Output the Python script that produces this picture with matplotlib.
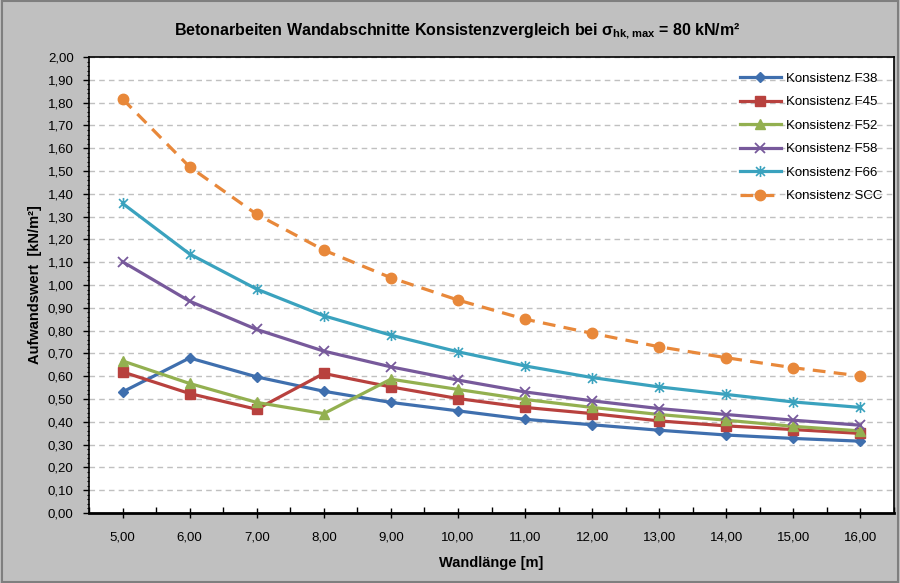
import numpy as np
import matplotlib.pyplot as plt
from matplotlib.path import Path
from matplotlib.patches import Rectangle
from matplotlib.ticker import MultipleLocator, FuncFormatter

plt.rcParams['font.family'] = ['Liberation Sans', 'DejaVu Sans']
plt.rcParams['mathtext.fontset'] = 'custom'
plt.rcParams['mathtext.rm'] = 'Liberation Sans'
plt.rcParams['mathtext.bf'] = 'Liberation Sans:bold'

# Wandlänge [m]
wandlaenge = [5.0, 6.0, 7.0, 8.0, 9.0, 10.0, 11.0, 12.0, 13.0, 14.0, 15.0, 16.0]

# Aufwandswerte [kN/m²] je Konsistenz
f38 = [0.531, 0.680, 0.597, 0.534, 0.485, 0.448, 0.411, 0.387, 0.363, 0.342, 0.327, 0.315]
f45 = [0.619, 0.524, 0.455, 0.612, 0.553, 0.502, 0.463, 0.436, 0.404, 0.382, 0.366, 0.349]
f52 = [0.667, 0.568, 0.485, 0.436, 0.587, 0.542, 0.498, 0.463, 0.432, 0.407, 0.380, 0.360]
f58 = [1.102, 0.929, 0.805, 0.710, 0.641, 0.583, 0.531, 0.492, 0.458, 0.432, 0.407, 0.385]
f66 = [1.358, 1.136, 0.982, 0.865, 0.780, 0.707, 0.645, 0.594, 0.553, 0.520, 0.487, 0.463]
scc = [1.816, 1.518, 1.310, 1.153, 1.032, 0.934, 0.850, 0.788, 0.729, 0.681, 0.637, 0.601]

labels = ['Konsistenz F38', 'Konsistenz F45', 'Konsistenz F52',
          'Konsistenz F58', 'Konsistenz F66', 'Konsistenz SCC']

# Stern-Marker (x mit senkrechtem Strich)
stern = Path([(-1, -1), (1, 1), (-1, 1), (1, -1), (0, -1.25), (0, 1.25)],
             [Path.MOVETO, Path.LINETO, Path.MOVETO, Path.LINETO, Path.MOVETO, Path.LINETO])

fig = plt.figure(figsize=(9, 5.83), dpi=100, facecolor='#c0c0c0')
fig.patches.append(Rectangle((0.002, 0.002), 0.996, 0.996, transform=fig.transFigure,
                             fill=False, edgecolor='#7f7f7f', lw=1.5))
ax = fig.add_axes([89 / 900, 1 - 513 / 583, 805 / 900, 456 / 583])
ax.set_facecolor('white')

lw = 2.3
ax.plot(wandlaenge, f38, color='#3f6fae', lw=lw, marker='D', ms=5.5, label=labels[0])
ax.plot(wandlaenge, f45, color='#b8413e', lw=lw, marker='s', ms=7, label=labels[1])
ax.plot(wandlaenge, f52, color='#93b050', lw=lw, marker='^', ms=7.5, label=labels[2])
ax.plot(wandlaenge, f58, color='#77599b', lw=lw, marker='x', ms=7, mew=1.3, label=labels[3])
ax.plot(wandlaenge, f66, color='#3aa2be', lw=lw, marker=stern, ms=8, mew=1.2, label=labels[4])
ax.plot(wandlaenge, scc, color='#e8883a', lw=lw, marker='o', ms=7.5, ls=(0, (4, 2.6)), label=labels[5])

ax.set_xlim(4.5, 16.5)
ax.set_ylim(0, 2.0)
ax.set_xticks(wandlaenge)
ax.set_xticks(np.arange(4.5, 16.6, 1.0), minor=True)
ax.yaxis.set_major_locator(MultipleLocator(0.1))
ax.yaxis.set_minor_locator(MultipleLocator(0.02))
komma = FuncFormatter(lambda v, p: f'{v:.2f}'.replace('.', ','))
ax.xaxis.set_major_formatter(komma)
ax.yaxis.set_major_formatter(komma)

ax.tick_params(axis='x', which='major', direction='inout', length=7, width=1, pad=10, labelsize=9.5)
ax.tick_params(axis='x', which='minor', direction='in', length=4, width=1)
ax.tick_params(axis='y', which='major', direction='out', length=4, width=1, pad=7, labelsize=9.5)
ax.tick_params(axis='y', which='minor', direction='out', length=1.5, width=0.8)

ax.yaxis.grid(True, which='major', color='#c0c0c0', ls=(0, (4, 3)), lw=1)
ax.set_axisbelow(True)
for s in ['left', 'top', 'right']:
    ax.spines[s].set_linewidth(1.2)
ax.spines['bottom'].set_linewidth(2)

ax.set_xlabel('Wandlänge [m]', fontsize=10.5, fontweight='bold', labelpad=9)
ax.set_ylabel('Aufwandswert  [kN/m²]', fontsize=10.5, fontweight='bold', labelpad=4)

fig.text(0.508, 1 - 31 / 583,
         r'Betonarbeiten Wandabschnitte Konsistenzvergleich bei $\mathbf{\sigma_{hk,max}}$ = 80 kN/m²',
         ha='center', va='center', fontsize=11.5, fontweight='bold')

ax.legend(loc='upper right', frameon=False, fontsize=9.5, handlelength=3.1,
          labelspacing=0.85, handletextpad=0.4, borderaxespad=0.9,
          bbox_to_anchor=(1.007, 1.003))

fig.savefig('out.png', dpi=100, facecolor=fig.get_facecolor())
